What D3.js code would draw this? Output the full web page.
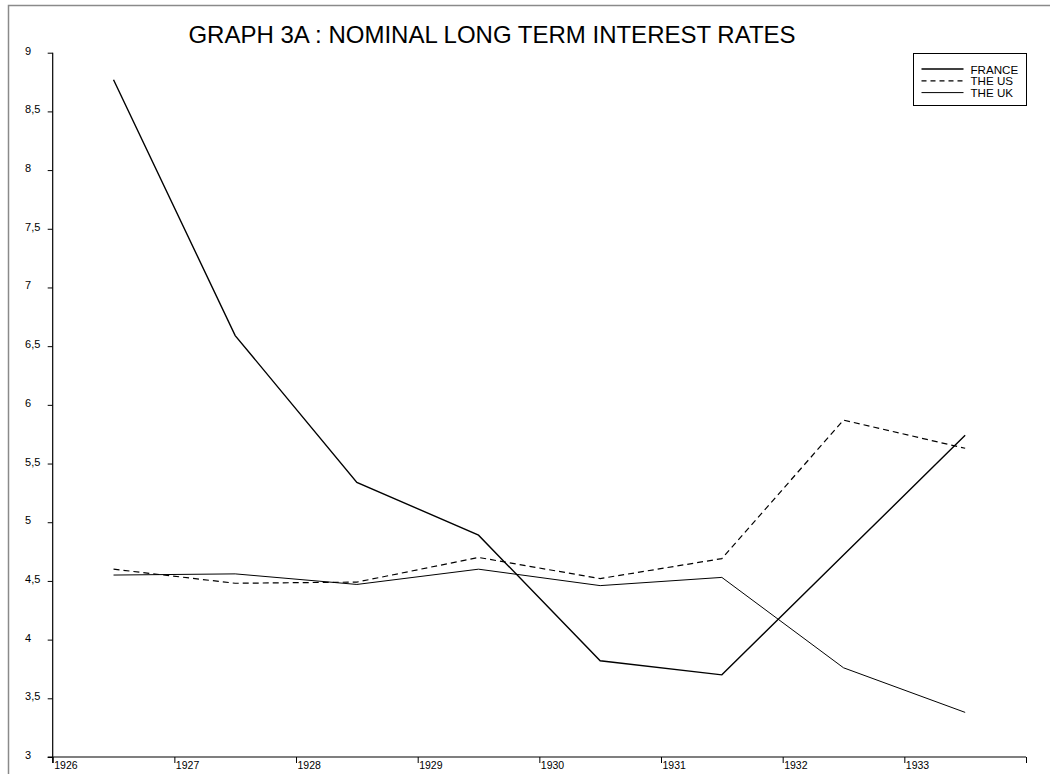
<!DOCTYPE html>
<html>
<head>
<meta charset="utf-8">
<script src="https://cdn.jsdelivr.net/npm/d3@7"></script>
<style>
  html, body { margin: 0; padding: 0; background: #fff; }
  svg { display: block; font-family: "Liberation Sans", Arial, sans-serif; }
</style>
</head>
<body>
<svg id="chart" width="1050" height="774"></svg>
<script>
// ---- data ----
const years = [1926, 1927, 1928, 1929, 1930, 1931, 1932, 1933];
const france = [8.77, 6.59, 5.34, 4.89, 3.82, 3.70, 4.72, 5.74];
const theUS  = [4.60, 4.48, 4.49, 4.70, 4.52, 4.69, 5.87, 5.63];
const theUK  = [4.55, 4.56, 4.47, 4.60, 4.46, 4.53, 3.76, 3.38];
const xTicks = [1926, 1927, 1928, 1929, 1930, 1931, 1932, 1933, 1934];
const xTickLabels = ["1926", "1927", "1928", "1929", "1930", "1931", "1932", "1933", ""];
const yTicks = [3, 3.5, 4, 4.5, 5, 5.5, 6, 6.5, 7, 7.5, 8, 8.5, 9];
const yTickLabels = ["3", "3,5", "4", "4,5", "5", "5,5", "6", "6,5", "7", "7,5", "8", "8,5", "9"];
const seriesNames = ["FRANCE", "THE US", "THE UK"];
const title = "GRAPH 3A : NOMINAL LONG TERM INTEREST RATES";

// ---- layout ----
const svg = d3.select("#chart");
const x = d3.scaleLinear().domain([1926, 1934]).range([52.7, 1026]);
const y = d3.scaleLinear().domain([3, 9]).range([757, 52.7]);

// outer frame (only top and left visible)
svg.append("rect")
  .attr("x", 8.5).attr("y", 5.5)
  .attr("width", 1100).attr("height", 900)
  .attr("fill", "none").attr("stroke", "#8a8a8a").attr("stroke-width", 1.5);

// title
svg.append("text")
  .attr("x", 492).attr("y", 43)
  .attr("text-anchor", "middle")
  .attr("font-size", 24)
  .attr("fill", "#000")
  .text(title);

// y axis
const yAxis = d3.axisLeft(y)
  .tickValues(yTicks)
  .tickSize(5)
  .tickFormat((d, i) => yTickLabels[i]);
const gy = svg.append("g").attr("transform", `translate(${x(1926)},0)`).call(yAxis);
gy.select(".domain").attr("stroke", "#000").attr("stroke-width", 1.2).attr("d", `M0,${y(9)}V${y(3) + 6}`);
gy.selectAll(".tick line").attr("stroke", "#000");
gy.selectAll(".tick text")
  .attr("text-anchor", "start")
  .attr("x", 25 - x(1926))
  .attr("dy", null)
  .attr("y", 1.5)
  .attr("font-size", 11)
  .attr("font-family", "Liberation Sans, Arial, sans-serif")
  .attr("fill", "#000");

// x axis
const xAxis = d3.axisBottom(x)
  .tickValues(xTicks)
  .tickSize(6)
  .tickFormat((d, i) => xTickLabels[i]);
const gx = svg.append("g").attr("transform", `translate(0,${y(3)})`).call(xAxis);
gx.select(".domain").attr("stroke", "#000").attr("stroke-width", 1.2).attr("d", `M${x(1926) - 5},0H${x(1934)}`);
gx.selectAll(".tick line").attr("stroke", "#000");
gx.selectAll(".tick text")
  .attr("text-anchor", "start")
  .attr("x", 1)
  .attr("y", 11.5)
  .attr("dy", null)
  .attr("font-size", 10.5)
  .attr("font-family", "Liberation Sans, Arial, sans-serif")
  .attr("fill", "#000");

// lines
const line = d3.line()
  .x((d, i) => x(years[i] + 0.5))
  .y(d => y(d));

const series = [
  { values: france, width: 1.4, dash: null },
  { values: theUS,  width: 1.2, dash: "6,4" },
  { values: theUK,  width: 1.0, dash: null }
];
series.forEach(s => {
  svg.append("path")
    .datum(s.values)
    .attr("d", line)
    .attr("fill", "none")
    .attr("stroke", "#000")
    .attr("stroke-width", s.width)
    .attr("stroke-dasharray", s.dash);
});

// legend
const lg = svg.append("g");
lg.append("rect")
  .attr("x", 913.5).attr("y", 53.5)
  .attr("width", 113).attr("height", 52)
  .attr("fill", "#fff").attr("stroke", "#000").attr("stroke-width", 1);
const legendY = [69, 80.8, 92.6];
seriesNames.forEach((name, i) => {
  lg.append("line")
    .attr("x1", 921.5).attr("x2", 963.5)
    .attr("y1", legendY[i]).attr("y2", legendY[i])
    .attr("stroke", "#000")
    .attr("stroke-width", series[i].width)
    .attr("stroke-dasharray", series[i].dash ? "5,4" : null);
  lg.append("text")
    .attr("x", 970.5).attr("y", legendY[i] + 4.5)
    .attr("font-size", 11.6)
    .attr("fill", "#000")
    .text(name);
});
</script>
</body>
</html>
